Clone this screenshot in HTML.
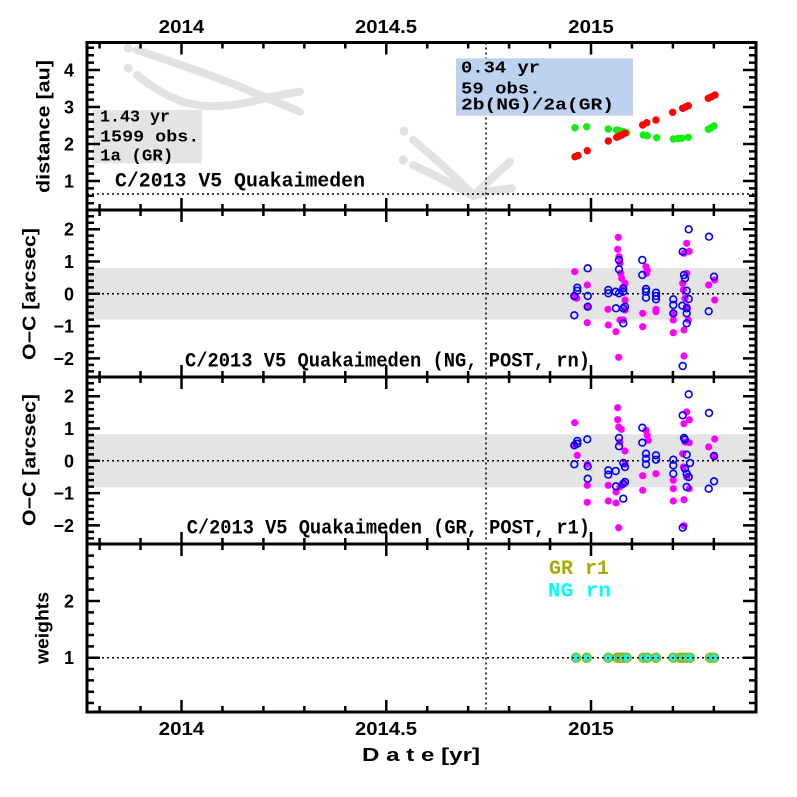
<!DOCTYPE html>
<html><head><meta charset="utf-8"><style>
html,body{margin:0;padding:0;background:#fff;}
svg{display:block;}
.t{font-family:"Liberation Sans",sans-serif;font-weight:bold;font-size:18px;fill:#000;}
.a{font-family:"Liberation Mono",monospace;font-weight:bold;font-size:17px;fill:#000;}
.b{font-family:"Liberation Mono",monospace;font-weight:bold;font-size:20px;fill:#000;}
</style></head><body>
<svg width="797" height="797" viewBox="0 0 797 797" xmlns="http://www.w3.org/2000/svg">
<rect width="797" height="797" fill="#fff"/>
<!-- bands -->
<rect x="87" y="268" width="669" height="51.6" fill="#e4e4e4"/>
<rect x="87" y="434.3" width="669" height="53" fill="#e4e4e4"/>
<rect x="92.7" y="110" width="109" height="53.3" fill="#e4e4e4"/>
<!-- grey curves -->
<g fill="none" stroke="#e2e2e2" stroke-width="8" stroke-linecap="round" stroke-linejoin="round">
<polyline points="136.7,50 166.7,60 200,71.7 233.3,84 266.7,98 300,111.7"/>
<polyline points="136.7,75 150,85 166.7,95 183,102 200,105.5 216.7,106.3 233.3,105 250,102 266.7,97.7 283,94.5 300,91.7"/>
<polyline points="413.3,140 440,163 460,182 473,195"/>
<polyline points="413.3,165 440,178 460,189 473,196"/>
<polyline points="473,196 490,180 510,161.7"/>
<polyline points="473,196 490,191 511.7,188.3"/>
</g>
<g fill="#e2e2e2"><circle cx="128.3" cy="48.3" r="4.5"/><circle cx="128.3" cy="68.3" r="4.5"/><circle cx="404" cy="131" r="4.5"/><circle cx="403.3" cy="160" r="4.5"/></g>
<!-- dotted lines -->
<g stroke="#000" stroke-width="1.5" stroke-dasharray="2,3" fill="none">
<line x1="87" y1="194" x2="756" y2="194"/>
<line x1="87" y1="293.8" x2="756" y2="293.8"/>
<line x1="87" y1="460.8" x2="756" y2="460.8"/>
<line x1="486" y1="42.5" x2="486" y2="712"/>
</g>
<rect x="456" y="58.3" width="177" height="57.4" fill="#bdd2ee"/>
<!-- panel 1 points -->
<g fill="#11ee11">
<circle cx="575" cy="127.7" r="3.7"/><circle cx="586.7" cy="126.7" r="3.7"/><circle cx="608.3" cy="129" r="3.7"/><circle cx="616.7" cy="130" r="3.7"/><circle cx="620" cy="130.8" r="3.7"/><circle cx="623.3" cy="131.7" r="3.7"/><circle cx="626.7" cy="132.7" r="3.7"/><circle cx="643.3" cy="135" r="3.7"/><circle cx="647.3" cy="135.7" r="3.7"/><circle cx="656.7" cy="137.7" r="3.7"/><circle cx="673.3" cy="139" r="3.7"/><circle cx="678" cy="138.6" r="3.7"/><circle cx="681.7" cy="138.3" r="3.7"/><circle cx="688.3" cy="137.3" r="3.7"/><circle cx="708.3" cy="129.3" r="3.7"/><circle cx="711" cy="127.8" r="3.7"/><circle cx="714" cy="126" r="3.7"/>
</g>
<g fill="#ff0000">
<circle cx="575" cy="156.7" r="3.7"/><circle cx="578" cy="155.5" r="3.7"/><circle cx="587.3" cy="150.7" r="3.7"/><circle cx="608.3" cy="141" r="3.7"/><circle cx="616.7" cy="137.3" r="3.7"/><circle cx="619" cy="136.2" r="3.7"/><circle cx="621.7" cy="135" r="3.7"/><circle cx="625" cy="133.3" r="3.7"/><circle cx="642.7" cy="125" r="3.7"/><circle cx="646.7" cy="122.7" r="3.7"/><circle cx="656" cy="120" r="3.7"/><circle cx="672.7" cy="112.3" r="3.7"/><circle cx="682.7" cy="108.3" r="3.7"/><circle cx="685.5" cy="107" r="3.7"/><circle cx="688.3" cy="105.7" r="3.7"/><circle cx="708.3" cy="98.3" r="3.7"/><circle cx="711.5" cy="96.8" r="3.7"/><circle cx="715" cy="95" r="3.7"/>
</g>
<!-- panel 2 points -->
<g fill="#ff00ff">
<circle cx="574.7" cy="271.7" r="3.6"/><circle cx="574.7" cy="297.3" r="3.6"/><circle cx="576.7" cy="298.3" r="3.6"/><circle cx="587.3" cy="285" r="3.6"/><circle cx="587.3" cy="306.7" r="3.6"/><circle cx="587.3" cy="322.7" r="3.6"/><circle cx="608" cy="309.3" r="3.6"/><circle cx="608.3" cy="325" r="3.6"/><circle cx="616" cy="331.7" r="3.6"/><circle cx="618.7" cy="357.3" r="3.6"/><circle cx="618.3" cy="237.3" r="3.6"/><circle cx="617.7" cy="249.3" r="3.6"/><circle cx="619" cy="256.7" r="3.6"/><circle cx="620" cy="263.3" r="3.6"/><circle cx="620.7" cy="273.3" r="3.6"/><circle cx="621.7" cy="278.3" r="3.6"/><circle cx="625" cy="283.3" r="3.6"/><circle cx="623.3" cy="288.3" r="3.6"/><circle cx="625" cy="300" r="3.6"/><circle cx="625" cy="310" r="3.6"/><circle cx="623.3" cy="320" r="3.6"/><circle cx="620" cy="320" r="3.6"/><circle cx="642.7" cy="313.3" r="3.6"/><circle cx="642.7" cy="326.7" r="3.6"/><circle cx="646" cy="266.7" r="3.6"/><circle cx="646.7" cy="273.3" r="3.6"/><circle cx="647.3" cy="270" r="3.6"/><circle cx="656" cy="309.3" r="3.6"/><circle cx="656" cy="311.7" r="3.6"/><circle cx="673.3" cy="313.3" r="3.6"/><circle cx="673.3" cy="320" r="3.6"/><circle cx="673.3" cy="332.7" r="3.6"/><circle cx="686.7" cy="243.3" r="3.6"/><circle cx="689.3" cy="251.3" r="3.6"/><circle cx="684" cy="253.3" r="3.6"/><circle cx="686.7" cy="273.3" r="3.6"/><circle cx="682.7" cy="283.3" r="3.6"/><circle cx="683.3" cy="290" r="3.6"/><circle cx="685" cy="298.3" r="3.6"/><circle cx="686.7" cy="306.7" r="3.6"/><circle cx="688.3" cy="320" r="3.6"/><circle cx="684" cy="330" r="3.6"/><circle cx="684" cy="356" r="3.6"/><circle cx="708.7" cy="285" r="3.6"/><circle cx="714.7" cy="280" r="3.6"/><circle cx="714.7" cy="300" r="3.6"/>
</g>
<g fill="none" stroke="#0000ff" stroke-width="1.6">
<circle cx="587.7" cy="268.3" r="3.4"/><circle cx="577.3" cy="287.7" r="3.4"/><circle cx="577.3" cy="290.7" r="3.4"/><circle cx="574.3" cy="296" r="3.4"/><circle cx="587.7" cy="296" r="3.4"/><circle cx="587.7" cy="306.7" r="3.4"/><circle cx="574.3" cy="315.3" r="3.4"/><circle cx="608.3" cy="290" r="3.4"/><circle cx="608.3" cy="293.3" r="3.4"/><circle cx="615.7" cy="291.7" r="3.4"/><circle cx="619" cy="260" r="3.4"/><circle cx="619" cy="269.3" r="3.4"/><circle cx="619" cy="293.3" r="3.4"/><circle cx="623.3" cy="288.3" r="3.4"/><circle cx="623.3" cy="291.7" r="3.4"/><circle cx="625" cy="306.7" r="3.4"/><circle cx="623.3" cy="308.3" r="3.4"/><circle cx="623.3" cy="323.3" r="3.4"/><circle cx="616" cy="308.3" r="3.4"/><circle cx="642.3" cy="260" r="3.4"/><circle cx="642.3" cy="275" r="3.4"/><circle cx="646" cy="289" r="3.4"/><circle cx="646" cy="291.7" r="3.4"/><circle cx="646" cy="297.7" r="3.4"/><circle cx="656" cy="292.7" r="3.4"/><circle cx="656" cy="296" r="3.4"/><circle cx="656" cy="299.3" r="3.4"/><circle cx="673.3" cy="299.3" r="3.4"/><circle cx="673.3" cy="305" r="3.4"/><circle cx="673.3" cy="313.3" r="3.4"/><circle cx="682.7" cy="251.7" r="3.4"/><circle cx="684" cy="275" r="3.4"/><circle cx="685" cy="278.3" r="3.4"/><circle cx="686.7" cy="290.7" r="3.4"/><circle cx="688.7" cy="299" r="3.4"/><circle cx="682.3" cy="305.7" r="3.4"/><circle cx="686.7" cy="308.3" r="3.4"/><circle cx="686.7" cy="313.3" r="3.4"/><circle cx="686.7" cy="323.3" r="3.4"/><circle cx="682.7" cy="366" r="3.4"/><circle cx="688.7" cy="229.3" r="3.4"/><circle cx="709" cy="236.7" r="3.4"/><circle cx="714" cy="276.7" r="3.4"/><circle cx="708.7" cy="311.3" r="3.4"/>
</g>
<!-- panel 3 points -->
<g fill="#ff00ff">
<circle cx="574.7" cy="422.7" r="3.6"/><circle cx="574.7" cy="445.3" r="3.6"/><circle cx="577.3" cy="455.3" r="3.6"/><circle cx="587.3" cy="464.3" r="3.6"/><circle cx="587.3" cy="485.3" r="3.6"/><circle cx="587.3" cy="502.3" r="3.6"/><circle cx="608.3" cy="485.3" r="3.6"/><circle cx="608.3" cy="501" r="3.6"/><circle cx="616" cy="492" r="3.6"/><circle cx="616" cy="503" r="3.6"/><circle cx="618.7" cy="527.7" r="3.6"/><circle cx="617.7" cy="407.7" r="3.6"/><circle cx="617.7" cy="419.7" r="3.6"/><circle cx="618.7" cy="427" r="3.6"/><circle cx="621.3" cy="429.3" r="3.6"/><circle cx="620" cy="442" r="3.6"/><circle cx="625" cy="451" r="3.6"/><circle cx="625" cy="464.3" r="3.6"/><circle cx="623.3" cy="483.7" r="3.6"/><circle cx="620" cy="487" r="3.6"/><circle cx="642.7" cy="475.7" r="3.6"/><circle cx="642.7" cy="490.3" r="3.6"/><circle cx="646" cy="430.3" r="3.6"/><circle cx="647.3" cy="435.3" r="3.6"/><circle cx="648.3" cy="440.3" r="3.6"/><circle cx="656" cy="473.7" r="3.6"/><circle cx="673.3" cy="480.3" r="3.6"/><circle cx="673.3" cy="488.7" r="3.6"/><circle cx="673.3" cy="501" r="3.6"/><circle cx="686.7" cy="412" r="3.6"/><circle cx="689.3" cy="419.7" r="3.6"/><circle cx="684" cy="423.7" r="3.6"/><circle cx="685" cy="442" r="3.6"/><circle cx="689.3" cy="442.7" r="3.6"/><circle cx="682.7" cy="453.7" r="3.6"/><circle cx="683.3" cy="467" r="3.6"/><circle cx="686.7" cy="477" r="3.6"/><circle cx="689.3" cy="488.7" r="3.6"/><circle cx="684" cy="499.7" r="3.6"/><circle cx="684" cy="525.7" r="3.6"/><circle cx="708.7" cy="447" r="3.6"/><circle cx="714.7" cy="439" r="3.6"/><circle cx="714.7" cy="457" r="3.6"/>
</g>
<g fill="none" stroke="#0000ff" stroke-width="1.6">
<circle cx="574.3" cy="445.3" r="3.4"/><circle cx="577.3" cy="441" r="3.4"/><circle cx="577.3" cy="443.7" r="3.4"/><circle cx="587.3" cy="439.3" r="3.4"/><circle cx="574.3" cy="464.3" r="3.4"/><circle cx="587.7" cy="466.3" r="3.4"/><circle cx="587.7" cy="478.7" r="3.4"/><circle cx="608.3" cy="470.3" r="3.4"/><circle cx="608.3" cy="474.7" r="3.4"/><circle cx="615.7" cy="471" r="3.4"/><circle cx="619" cy="438" r="3.4"/><circle cx="619" cy="446.3" r="3.4"/><circle cx="616" cy="486.3" r="3.4"/><circle cx="623.3" cy="463" r="3.4"/><circle cx="625" cy="467" r="3.4"/><circle cx="623.3" cy="483.7" r="3.4"/><circle cx="625" cy="482" r="3.4"/><circle cx="623.3" cy="498.7" r="3.4"/><circle cx="642.3" cy="427.7" r="3.4"/><circle cx="642.3" cy="442.7" r="3.4"/><circle cx="646" cy="453.7" r="3.4"/><circle cx="646" cy="458.7" r="3.4"/><circle cx="646" cy="464.3" r="3.4"/><circle cx="656" cy="455.3" r="3.4"/><circle cx="656" cy="459.7" r="3.4"/><circle cx="673.3" cy="459.7" r="3.4"/><circle cx="673.3" cy="465.3" r="3.4"/><circle cx="673.3" cy="473.7" r="3.4"/><circle cx="682.7" cy="415.3" r="3.4"/><circle cx="684" cy="438" r="3.4"/><circle cx="685" cy="439.7" r="3.4"/><circle cx="686.7" cy="454.7" r="3.4"/><circle cx="690" cy="463" r="3.4"/><circle cx="685" cy="468.7" r="3.4"/><circle cx="686.7" cy="473.7" r="3.4"/><circle cx="688.7" cy="477" r="3.4"/><circle cx="686.7" cy="487" r="3.4"/><circle cx="682.7" cy="527.7" r="3.4"/><circle cx="688.7" cy="394.3" r="3.4"/><circle cx="709" cy="413" r="3.4"/><circle cx="714" cy="456" r="3.4"/><circle cx="714" cy="481.3" r="3.4"/><circle cx="708.7" cy="488.7" r="3.4"/>
</g>
<!-- panel 4 points -->
<g fill="#00ffff" stroke="#aaaa00" stroke-width="1.5">
<circle cx="576" cy="657.7" r="4.5"/><circle cx="586.7" cy="657.7" r="4.5"/><circle cx="608.3" cy="657.7" r="4.5"/><circle cx="617.3" cy="657.7" r="4.5"/><circle cx="620.3" cy="657.7" r="4.5"/><circle cx="623.3" cy="657.7" r="4.5"/><circle cx="626.7" cy="657.7" r="4.5"/><circle cx="643.3" cy="657.7" r="4.5"/><circle cx="647.3" cy="657.7" r="4.5"/><circle cx="656" cy="657.7" r="4.5"/><circle cx="673.3" cy="657.7" r="4.5"/><circle cx="680" cy="657.7" r="4.5"/><circle cx="682.7" cy="657.7" r="4.5"/><circle cx="686" cy="657.7" r="4.5"/><circle cx="690" cy="657.7" r="4.5"/><circle cx="710" cy="657.7" r="4.5"/><circle cx="714" cy="657.7" r="4.5"/>
</g>
<line x1="87" y1="657.7" x2="756" y2="657.7" stroke="#000" stroke-width="1.5" stroke-dasharray="2,3"/>
<!-- frames -->
<g fill="none" stroke="#000" stroke-width="3">
<rect x="87" y="42.5" width="669" height="669.5"/>
<line x1="87" y1="210" x2="756" y2="210"/>
<line x1="87" y1="377" x2="756" y2="377"/>
<line x1="87" y1="544" x2="756" y2="544"/>
</g>
<!-- x ticks -->
<g stroke="#000" stroke-width="2.5" fill="none">
<path d="M181.5 42.5v12M181.5 198v24M181.5 365v24M181.5 532v24M181.5 700v12
M386.25 42.5v12M386.25 198v24M386.25 365v24M386.25 532v24M386.25 700v12
M591 42.5v12M591 198v24M591 365v24M591 532v24M591 700v12"/>
<path d="M99.6 42.5v6M99.6 204v12M99.6 371v12M99.6 538v12M99.6 706v6
M140.55 42.5v6M140.55 204v12M140.55 371v12M140.55 538v12M140.55 706v6
M222.45 42.5v6M222.45 204v12M222.45 371v12M222.45 538v12M222.45 706v6
M263.4 42.5v6M263.4 204v12M263.4 371v12M263.4 538v12M263.4 706v6
M304.35 42.5v6M304.35 204v12M304.35 371v12M304.35 538v12M304.35 706v6
M345.3 42.5v6M345.3 204v12M345.3 371v12M345.3 538v12M345.3 706v6
M427.2 42.5v6M427.2 204v12M427.2 371v12M427.2 538v12M427.2 706v6
M468.15 42.5v6M468.15 204v12M468.15 371v12M468.15 538v12M468.15 706v6
M509.1 42.5v6M509.1 204v12M509.1 371v12M509.1 538v12M509.1 706v6
M550.05 42.5v6M550.05 204v12M550.05 371v12M550.05 538v12M550.05 706v6
M631.95 42.5v6M631.95 204v12M631.95 371v12M631.95 538v12M631.95 706v6
M672.9 42.5v6M672.9 204v12M672.9 371v12M672.9 538v12M672.9 706v6
M713.85 42.5v6M713.85 204v12M713.85 371v12M713.85 538v12M713.85 706v6"/>
<path d="M87 70h13M87 107h13M87 144h13M87 181h13M756 70h-13M756 107h-13M756 144h-13M756 181h-13
M87 229.2h13M87 261.5h13M87 293.8h13M87 326.1h13M87 358.4h13M756 229.2h-13M756 261.5h-13M756 293.8h-13M756 326.1h-13M756 358.4h-13
M87 396.2h13M87 428.5h13M87 460.8h13M87 493.1h13M87 525.4h13M756 396.2h-13M756 428.5h-13M756 460.8h-13M756 493.1h-13M756 525.4h-13
M87 601h13M87 657.7h13M756 601h-13M756 657.7h-13"/>
<path d="M87 203.2h7M87 195.8h7M87 188.4h7M87 173.6h7M87 166.2h7M87 158.8h7M87 151.4h7M87 136.6h7M87 129.2h7M87 121.8h7M87 114.4h7M87 99.6h7M87 92.2h7M87 84.8h7M87 77.4h7M87 62.6h7M87 55.2h7M87 47.8h7
M756 203.2h-7M756 195.8h-7M756 188.4h-7M756 173.6h-7M756 166.2h-7M756 158.8h-7M756 151.4h-7M756 136.6h-7M756 129.2h-7M756 121.8h-7M756 114.4h-7M756 99.6h-7M756 92.2h-7M756 84.8h-7M756 77.4h-7M756 62.6h-7M756 55.2h-7M756 47.8h-7"/>
<path d="M87 287.34h7M87 280.88h7M87 274.42h7M87 267.96h7M87 255.04h7M87 248.58h7M87 242.12h7M87 235.66h7M87 222.74h7M87 216.28h7M87 300.26h7M87 306.72h7M87 313.18h7M87 319.64h7M87 332.56h7M87 339.02h7M87 345.48h7M87 351.94h7M87 364.86h7M87 371.32h7
M756 287.34h-7M756 280.88h-7M756 274.42h-7M756 267.96h-7M756 255.04h-7M756 248.58h-7M756 242.12h-7M756 235.66h-7M756 222.74h-7M756 216.28h-7M756 300.26h-7M756 306.72h-7M756 313.18h-7M756 319.64h-7M756 332.56h-7M756 339.02h-7M756 345.48h-7M756 351.94h-7M756 364.86h-7M756 371.32h-7"/>
<path d="M87 454.34h7M87 447.88h7M87 441.42h7M87 434.96h7M87 422.04h7M87 415.58h7M87 409.12h7M87 402.66h7M87 389.74h7M87 383.28h7M87 467.26h7M87 473.72h7M87 480.18h7M87 486.64h7M87 499.56h7M87 506.02h7M87 512.48h7M87 518.94h7M87 531.86h7M87 538.32h7
M756 454.34h-7M756 447.88h-7M756 441.42h-7M756 434.96h-7M756 422.04h-7M756 415.58h-7M756 409.12h-7M756 402.66h-7M756 389.74h-7M756 383.28h-7M756 467.26h-7M756 473.72h-7M756 480.18h-7M756 486.64h-7M756 499.56h-7M756 506.02h-7M756 512.48h-7M756 518.94h-7M756 531.86h-7M756 538.32h-7"/>
<path d="M87 703.06h7M87 691.72h7M87 680.38h7M87 669.04h7M87 646.36h7M87 635.02h7M87 623.68h7M87 612.34h7M87 589.66h7M87 578.32h7M87 566.98h7M87 555.64h7
M756 703.06h-7M756 691.72h-7M756 680.38h-7M756 669.04h-7M756 646.36h-7M756 635.02h-7M756 623.68h-7M756 612.34h-7M756 589.66h-7M756 578.32h-7M756 566.98h-7M756 555.64h-7"/>
</g>
<!-- x labels -->
<g class="t">
<text x="158.7" y="33" textLength="45.6" lengthAdjust="spacingAndGlyphs">2014</text>
<text x="355" y="33" textLength="62" lengthAdjust="spacingAndGlyphs">2014.5</text>
<text x="568.2" y="33" textLength="45.6" lengthAdjust="spacingAndGlyphs">2015</text>
<text x="158.7" y="735" textLength="45.6" lengthAdjust="spacingAndGlyphs">2014</text>
<text x="355" y="735" textLength="62" lengthAdjust="spacingAndGlyphs">2014.5</text>
<text x="568.2" y="735" textLength="45.6" lengthAdjust="spacingAndGlyphs">2015</text>
<text x="362" y="761" textLength="118" lengthAdjust="spacingAndGlyphs">D a t e [yr]</text>
</g>
<!-- y labels -->
<g class="t" text-anchor="end">
<text x="74" y="76.5">4</text>
<text x="74" y="113.5">3</text>
<text x="74" y="150.5">2</text>
<text x="74" y="187.5">1</text>
<text x="74" y="235.7">2</text>
<text x="74" y="268">1</text>
<text x="74" y="300.3">0</text>
<text x="74" y="332.6">−1</text>
<text x="74" y="364.9">−2</text>
<text x="74" y="402.7">2</text>
<text x="74" y="435">1</text>
<text x="74" y="467.3">0</text>
<text x="74" y="499.6">−1</text>
<text x="74" y="531.9">−2</text>
<text x="74" y="607.5">2</text>
<text x="74" y="664.2">1</text>
</g>
<g class="t" text-anchor="middle">
<text transform="translate(49.5,126.5) rotate(-90)" textLength="133" lengthAdjust="spacingAndGlyphs">distance [au]</text>
<text transform="translate(35.5,294) rotate(-90)" textLength="132" lengthAdjust="spacingAndGlyphs">O−C [arcsec]</text>
<text transform="translate(35.5,460) rotate(-90)" textLength="132" lengthAdjust="spacingAndGlyphs">O−C [arcsec]</text>
<text transform="translate(48.5,628) rotate(-90)" textLength="72" lengthAdjust="spacingAndGlyphs">weights</text>
</g>
<!-- annotations -->
<g class="a">
<text x="100" y="121.7" textLength="70" lengthAdjust="spacingAndGlyphs">1.43 yr</text>
<text x="100" y="141.3" textLength="99.3" lengthAdjust="spacingAndGlyphs">1599 obs.</text>
<text x="100" y="160.7" textLength="73.3" lengthAdjust="spacingAndGlyphs">1a (GR)</text>
<text x="461" y="72.7" textLength="79" lengthAdjust="spacingAndGlyphs">0.34 yr</text>
<text x="461" y="93.3" textLength="79.7" lengthAdjust="spacingAndGlyphs">59 obs.</text>
<text x="461" y="109.5" textLength="153" lengthAdjust="spacingAndGlyphs">2b(NG)/2a(GR)</text>
</g>
<g class="b">
<text x="115" y="186.7" textLength="250" lengthAdjust="spacingAndGlyphs">C/2013 V5 Quakaimeden</text>
<text x="185" y="366.7" textLength="405" lengthAdjust="spacingAndGlyphs">C/2013 V5 Quakaimeden (NG, POST, rn)</text>
<text x="186.7" y="533.3" textLength="403.3" lengthAdjust="spacingAndGlyphs">C/2013 V5 Quakaimeden (GR, POST, r1)</text>
<text x="549" y="574" textLength="60" lengthAdjust="spacingAndGlyphs" style="fill:#aaaa00">GR r1</text>
<text x="548" y="596.7" textLength="63" lengthAdjust="spacingAndGlyphs" style="fill:#00ffff">NG rn</text>
</g>
</svg>
</body></html>
